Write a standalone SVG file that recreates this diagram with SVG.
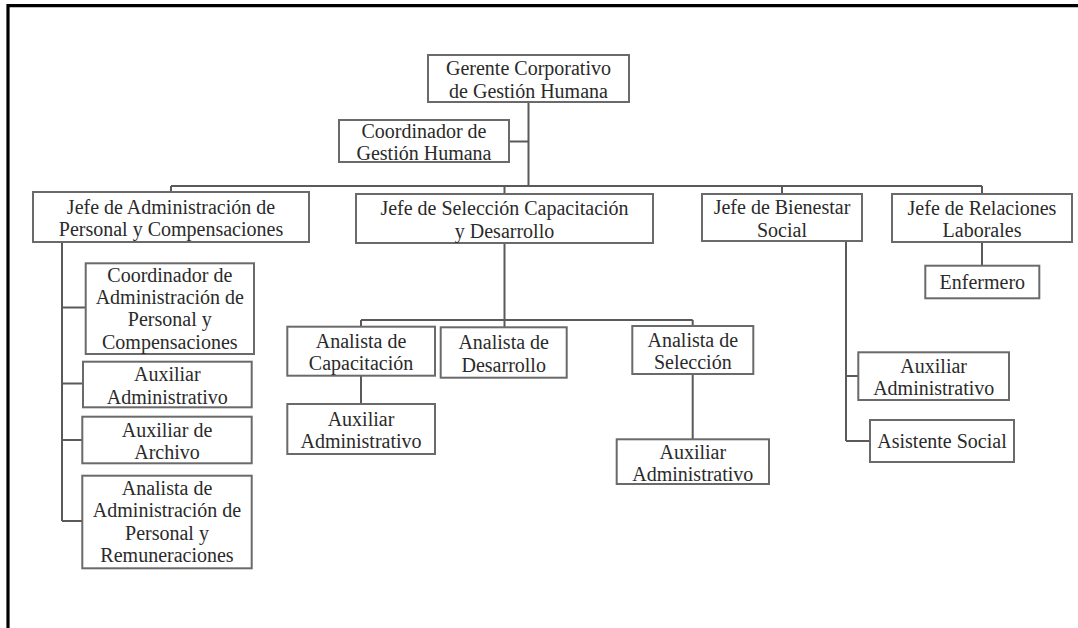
<svg xmlns="http://www.w3.org/2000/svg" width="1078" height="628" viewBox="0 0 1078 628">
<style>
.box{fill:#fff;stroke:#6a6a6a;stroke-width:2}
.t{font-family:"Liberation Serif","Times New Roman",serif;font-size:20px;fill:#2a2a2a;text-anchor:middle}
.c{fill:none;stroke:#5a5a5a;stroke-width:2}
.frame{fill:none;stroke:#000;stroke-width:3.2}
</style>
<rect width="1078" height="628" fill="#fff"/>
<path class="frame" d="M8 628 V5.6 H1078"/>
<g id="connectors">
<path class="c" d="M528.5 102 V186 M509 141.5 H528.5 M171 186 H982 M171 186 V192 M504.5 186 V194 M782 186 V194 M982 186 V194"/>
<path class="c" d="M62 242 V521 M62 307.5 H85.7 M62 383.5 H83 M62 440 H82.3 M62 521 H82.3"/>
<path class="c" d="M504.5 243 V327.3 M361 320 H692.7 M361 320 V326.7 M692.7 320 V326 M361 375.7 V404 M692.7 374 V439.3"/>
<path class="c" d="M846 241 V441 M846 376 H858.3 M846 441 H870 M982 242 V265.7"/>
</g>
<g id="gerente"><rect class="box" x="428" y="55" width="201" height="47"/><text class="t" x="528.5" y="75.4">Gerente Corporativo</text><text class="t" x="528.5" y="97.6">de Gestión Humana</text></g>
<g id="coord-gh"><rect class="box" x="339" y="120" width="170" height="42"/><text class="t" x="424" y="137.9">Coordinador de</text><text class="t" x="424" y="160.1">Gestión Humana</text></g>
<g id="jefe-admin"><rect class="box" x="33" y="192" width="276" height="50"/><text class="t" x="171" y="213.9">Jefe de Administración de</text><text class="t" x="171" y="236.1">Personal y Compensaciones</text></g>
<g id="jefe-seleccion"><rect class="box" x="356" y="194" width="297" height="49"/><text class="t" x="504.5" y="215.4">Jefe de Selección Capacitación</text><text class="t" x="504.5" y="237.6">y Desarrollo</text></g>
<g id="jefe-bienestar"><rect class="box" x="702" y="194" width="160" height="47"/><text class="t" x="782" y="214.4">Jefe de Bienestar</text><text class="t" x="782" y="236.6">Social</text></g>
<g id="jefe-relaciones"><rect class="box" x="892" y="194" width="180" height="48"/><text class="t" x="982" y="214.9">Jefe de Relaciones</text><text class="t" x="982" y="237.1">Laborales</text></g>
<g id="coord-admin"><rect class="box" x="85.7" y="263.3" width="168.3" height="90.7"/><text class="t" x="169.8" y="281.9">Coordinador de</text><text class="t" x="169.8" y="304.1">Administración de</text><text class="t" x="169.8" y="326.3">Personal y</text><text class="t" x="169.8" y="348.5">Compensaciones</text></g>
<g id="aux-admin-1"><rect class="box" x="83" y="361.7" width="168.7" height="45.6"/><text class="t" x="167.3" y="381.4">Auxiliar</text><text class="t" x="167.3" y="403.6">Administrativo</text></g>
<g id="aux-archivo"><rect class="box" x="82.3" y="416.7" width="169.4" height="46.6"/><text class="t" x="167" y="436.9">Auxiliar de</text><text class="t" x="167" y="459.1">Archivo</text></g>
<g id="analista-admin"><rect class="box" x="82.3" y="475.7" width="169.4" height="92.6"/><text class="t" x="167" y="495.2">Analista de</text><text class="t" x="167" y="517.4">Administración de</text><text class="t" x="167" y="539.6">Personal y</text><text class="t" x="167" y="561.8">Remuneraciones</text></g>
<g id="analista-cap"><rect class="box" x="287.3" y="326.7" width="147.7" height="49"/><text class="t" x="361" y="348.1">Analista de</text><text class="t" x="361" y="370.3">Capacitación</text></g>
<g id="analista-des"><rect class="box" x="440.7" y="327.3" width="126" height="50.4"/><text class="t" x="503.7" y="349.4">Analista de</text><text class="t" x="503.7" y="371.6">Desarrollo</text></g>
<g id="analista-sel"><rect class="box" x="632.3" y="326" width="121" height="48"/><text class="t" x="692.8" y="346.9">Analista de</text><text class="t" x="692.8" y="369.1">Selección</text></g>
<g id="aux-cap"><rect class="box" x="287.3" y="404" width="147.7" height="50"/><text class="t" x="361" y="425.9">Auxiliar</text><text class="t" x="361" y="448.1">Administrativo</text></g>
<g id="aux-sel"><rect class="box" x="616.7" y="439.3" width="152.3" height="44.7"/><text class="t" x="692.8" y="458.6">Auxiliar</text><text class="t" x="692.8" y="480.8">Administrativo</text></g>
<g id="aux-bien"><rect class="box" x="858.3" y="352.3" width="150.7" height="47.7"/><text class="t" x="933.7" y="373.1">Auxiliar</text><text class="t" x="933.7" y="395.3">Administrativo</text></g>
<g id="asistente"><rect class="box" x="870" y="420" width="144" height="42"/><text class="t" x="942" y="448">Asistente Social</text></g>
<g id="enfermero"><rect class="box" x="925.3" y="265.7" width="114" height="32.6"/><text class="t" x="982.3" y="289">Enfermero</text></g>
</svg>
